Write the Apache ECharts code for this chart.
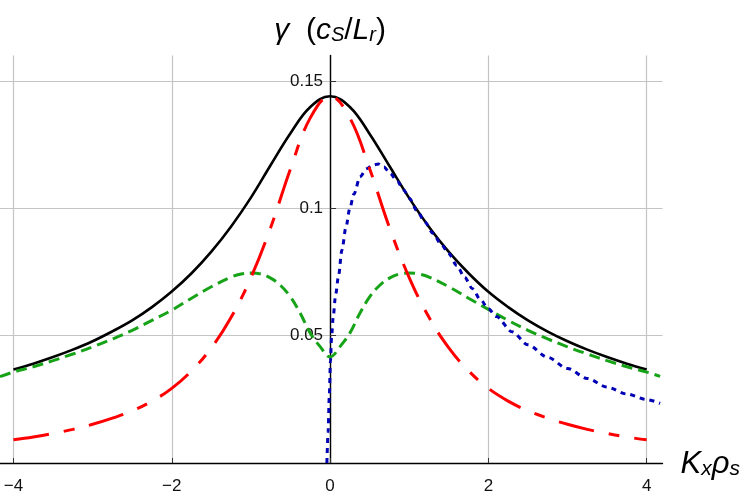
<!DOCTYPE html>
<html>
<head>
<meta charset="utf-8">
<script src="https://cdn.jsdelivr.net/npm/echarts@6/dist/echarts.min.js"></script>
<style>html,body{margin:0;padding:0;background:#fff}#c{width:750px;height:503px}</style>
</head>
<body>
<div id="c"></div>
<script>
// tick labels
const xTicks = [-4, -2, 0, 2, 4];
const xTickLabels = ['\u22124', '\u22122', '0', '2', '4'];
const yTicks = [0.05, 0.1, 0.15];
const yTickLabels = ['0.05', '0.1', '0.15'];

// black (solid) and red (dash-dot) curves
const xGrid = [-4, -3.75, -3.5, -3.25, -3, -2.75, -2.5, -2.25, -2, -1.75, -1.5, -1.25, -1, -0.75, -0.5, -0.25, 0,
  0.25, 0.5, 0.75, 1, 1.25, 1.5, 1.75, 2, 2.25, 2.5, 2.75, 3, 3.25, 3.5, 3.75, 4];
const blackVals = [0.0367, 0.0390, 0.0416, 0.0445, 0.0478, 0.0517, 0.0560, 0.0612, 0.0673, 0.0745, 0.0830, 0.0929, 0.1042, 0.1170, 0.1295, 0.1398, 0.1440,
  0.1398, 0.1292, 0.1166, 0.1040, 0.0927, 0.0829, 0.0745, 0.0672, 0.0612, 0.0560, 0.0516, 0.0478, 0.0445, 0.0416, 0.0390, 0.0367];
const redVals = [0.0091, 0.0102, 0.0116, 0.0132, 0.0152, 0.0176, 0.0205, 0.0243, 0.0293, 0.0362, 0.0452, 0.0572, 0.0728, 0.0925, 0.1155, 0.1355, 0.1440,
  0.1355, 0.1155, 0.0925, 0.0728, 0.0572, 0.0452, 0.0362, 0.0293, 0.0243, 0.0205, 0.0176, 0.0152, 0.0132, 0.0116, 0.0102, 0.0091];

// green (dashed) curve
const greenX = [-4.17, -4, -3.75, -3.5, -3.25, -3, -2.75, -2.5, -2.25, -2, -1.75, -1.5, -1.25, -1.125, -1, -0.875, -0.75, -0.625, -0.5, -0.375, -0.25, -0.125, 0,
  0.125, 0.25, 0.375, 0.5, 0.625, 0.75, 0.875, 1, 1.125, 1.25, 1.5, 1.75, 2, 2.25, 2.5, 2.75, 3, 3.25, 3.5, 3.75, 4, 4.17];
const greenVals = [0.0339, 0.0357, 0.0378, 0.0402, 0.0428, 0.0456, 0.0487, 0.0521, 0.0560, 0.0600, 0.0647, 0.0692, 0.0730, 0.0742, 0.0746, 0.0742, 0.0726, 0.0697, 0.0652, 0.0587, 0.0510, 0.0457, 0.0416,
  0.0457, 0.0510, 0.0587, 0.0652, 0.0697, 0.0726, 0.0742, 0.0746, 0.0742, 0.0730, 0.0692, 0.0647, 0.0603, 0.0560, 0.0521, 0.0487, 0.0456, 0.0428, 0.0402, 0.0378, 0.0357, 0.0340];

// blue (dotted) curve
const blueX = [-0.04, -0.025, -0.01, 0.005, 0.02, 0.04, 0.07, 0.105, 0.15, 0.2, 0.25, 0.3, 0.38, 0.46, 0.54, 0.61, 0.68, 0.76, 0.85, 0.93, 1.0, 1.1, 1.2, 1.3, 1.4,
  1.5, 1.6, 1.7, 1.8, 1.9, 2.0, 2.1, 2.3, 2.5, 2.75, 3.0, 3.25, 3.5, 3.75, 4.0, 4.17];
const blueVals = [0, 0.012, 0.026, 0.040, 0.050, 0.0575, 0.066, 0.0731, 0.0836, 0.0925, 0.1000, 0.1055, 0.1124, 0.1155, 0.1170, 0.1174, 0.1162, 0.1137, 0.1105, 0.1072, 0.1040, 0.0990, 0.0945, 0.0902, 0.0860,
  0.0822, 0.0776, 0.0729, 0.0684, 0.0641, 0.0606, 0.0575, 0.0515, 0.0464, 0.0415, 0.0371, 0.0332, 0.0298, 0.0271, 0.0249, 0.0234];

const FONT = 'Liberation Sans';
function pairs(xs, ys) { return xs.map((x, i) => [x, ys[i]]); }
function lab(ticks, labels) {
  return function (v) {
    for (let i = 0; i < ticks.length; i++) if (Math.abs(v - ticks[i]) < 1e-6) return labels[i];
    return '';
  };
}

const GRID_LEFT = 0;
const gridStyle = { color: '#c4c4c4', width: 1.2 };
const chart = echarts.init(document.getElementById('c'), null, { renderer: 'canvas' });
chart.setOption({
  animation: false,
  backgroundColor: '#fff',
  grid: { left: GRID_LEFT, right: 87.5, top: 55.5, bottom: 40, outerBoundsMode: 'none', containLabel: false },
  xAxis: {
    type: 'value', min: -4.17, max: 4.2, minInterval: 2, maxInterval: 2,
    axisLine: { onZero: false, lineStyle: { color: '#000', width: 1.4 } },
    axisTick: { inside: true, length: 5, interval: 0, lineStyle: { color: '#333', width: 1 }, customValues: xTicks },
    axisLabel: { customValues: xTicks, interval: 0, formatter: lab(xTicks, xTickLabels), fontFamily: FONT, fontSize: 17, color: '#111', margin: 15 },
    splitLine: { show: true, interval: 0, showMinLine: true, showMaxLine: true, lineStyle: gridStyle },
    name: '{i|K}{s|x}{i|\u03c1}{s|s}',
    nameLocation: 'end', nameGap: 18,
    nameTextStyle: {
      rich: {
        i: { fontFamily: FONT, fontStyle: 'italic', fontSize: 31, lineHeight: 34, color: '#000', verticalAlign: 'bottom' },
        s: { fontFamily: FONT, fontStyle: 'italic', fontSize: 21, lineHeight: 22, color: '#000', verticalAlign: 'bottom' }
      }
    }
  },
  yAxis: {
    type: 'value', min: 0, max: 0.16, interval: 0.05,
    axisLine: { onZero: false, lineStyle: { color: '#000', width: 1.4 } },
    axisTick: { inside: true, length: 6, interval: 0, lineStyle: { color: '#333', width: 1 }, customValues: yTicks },
    axisLabel: { customValues: yTicks, interval: 0, formatter: lab(yTicks, yTickLabels), fontFamily: FONT, fontSize: 17, color: '#111', margin: 7 },
    splitLine: { show: true, interval: 0, showMinLine: true, showMaxLine: true, lineStyle: gridStyle },
    name: '{g|\u03b3}{n|  (}{i|c}{s|S}{n|/}{i|L}{s|r}{n|)}',
    nameLocation: 'end', nameGap: 10,
    nameTextStyle: {
      align: 'center',
      rich: {
        g: { fontFamily: FONT, fontStyle: 'italic', fontSize: 30, lineHeight: 34, color: '#000', verticalAlign: 'bottom' },
        n: { fontFamily: FONT, fontSize: 30, lineHeight: 34, color: '#000', verticalAlign: 'bottom' },
        i: { fontFamily: FONT, fontStyle: 'italic', fontSize: 30, lineHeight: 34, color: '#000', verticalAlign: 'bottom' },
        s: { fontFamily: FONT, fontStyle: 'italic', fontSize: 20, lineHeight: 22, color: '#000', verticalAlign: 'bottom' }
      }
    }
  },
  series: [
    { name: 'black', type: 'line', data: pairs(xGrid, blackVals), smooth: 0.4, symbol: 'none', z: 2,
      lineStyle: { color: '#000', width: 2.6 } },
    { name: 'green', type: 'line', data: pairs(greenX, greenVals), smooth: 0.4, symbol: 'none', z: 3,
      lineStyle: { color: '#17a317', width: 3, type: [11, 6], cap: 'butt' } },
    { name: 'blue', type: 'line', data: pairs(blueX, blueVals), smooth: 0.3, smoothMonotone: 'x', symbol: 'none', z: 4,
      lineStyle: { color: '#0000b4', width: 3, type: [5, 5], cap: 'butt' } },
    { name: 'red', type: 'line', data: pairs(xGrid, redVals), smooth: 0.4, symbol: 'none', z: 5,
      lineStyle: { color: '#ff0000', width: 3, type: [36, 15, 11, 15], cap: 'butt' } }
  ]
});
// place the y axis on x = 0, using the library's own x scale
const zeroPx = chart.convertToPixel({ xAxisIndex: 0 }, 0);
chart.setOption({ yAxis: { offset: -(zeroPx - GRID_LEFT) } });
</script>
</body>
</html>
